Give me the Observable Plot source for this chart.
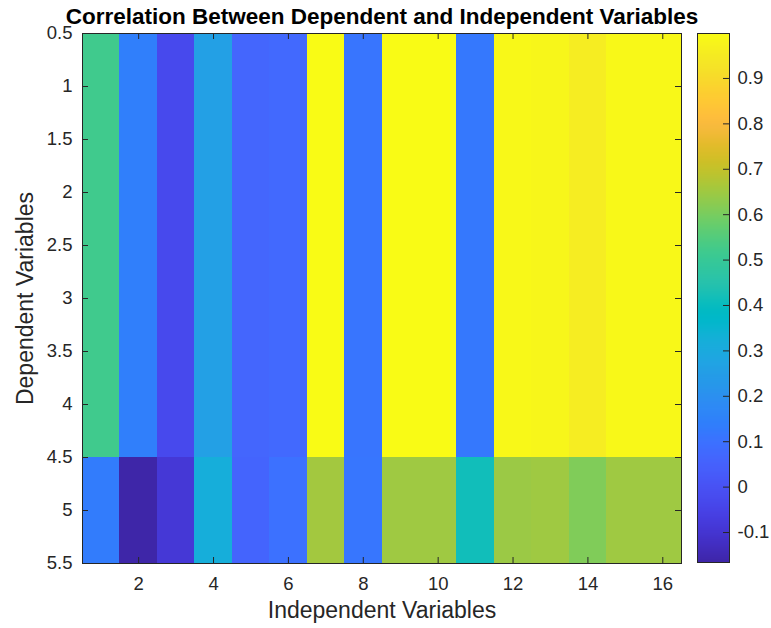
<!DOCTYPE html>
<html><head><meta charset="utf-8">
<script src="https://cdn.jsdelivr.net/npm/d3@7"></script>
<script src="https://cdn.jsdelivr.net/npm/@observablehq/plot@0.6"></script>
<style>
body{margin:0;background:#fff;}
#wrap{position:relative;width:771px;height:628px;overflow:hidden;background:#fff;}
#wrap svg{position:absolute;top:0;}
</style></head><body><div id="wrap"></div>
<script>
// ---- data ----
const independentVars = [1,2,3,4,5,6,7,8,9,10,11,12,13,14,15,16];
const dependentVars = [1,2,3,4,5];
const dep1 = [0.52, 0.14, -0.03, 0.26, 0.065, 0.075, 0.999, 0.11, 0.999, 0.998, 0.12, 0.99, 0.985, 0.955, 0.99, 0.99];
const dep2 = [0.52, 0.14, -0.03, 0.26, 0.065, 0.075, 0.999, 0.11, 0.999, 0.998, 0.12, 0.99, 0.985, 0.955, 0.99, 0.99];
const dep3 = [0.52, 0.14, -0.03, 0.26, 0.065, 0.075, 0.999, 0.11, 0.999, 0.998, 0.12, 0.99, 0.985, 0.955, 0.99, 0.99];
const dep4 = [0.52, 0.14, -0.03, 0.26, 0.065, 0.075, 0.999, 0.11, 0.999, 0.998, 0.12, 0.99, 0.985, 0.955, 0.99, 0.99];
const dep5 = [0.13, -0.166, -0.09, 0.32, 0.06, 0.10, 0.655, 0.115, 0.65, 0.65, 0.415, 0.645, 0.65, 0.61, 0.65, 0.65];
const xTicks = [2,4,6,8,10,12,14,16];
const yTicks = [0.5,1,1.5,2,2.5,3,3.5,4,4.5,5,5.5];
const colorbarTicks = [-0.1,0,0.1,0.2,0.3,0.4,0.5,0.6,0.7,0.8,0.9];
const titleText = "Correlation Between Dependent and Independent Variables";
const xLabel = "Independent Variables";
const yLabel = "Dependent Variables";

// parula colormap (style)
const parula = [
[0.2422,0.1504,0.6603],[0.2504,0.1650,0.7076],[0.2578,0.1818,0.7511],[0.2647,0.1978,0.7952],
[0.2706,0.2147,0.8364],[0.2751,0.2342,0.8710],[0.2783,0.2559,0.8991],[0.2803,0.2782,0.9221],
[0.2813,0.3006,0.9414],[0.2810,0.3228,0.9579],[0.2795,0.3447,0.9717],[0.2760,0.3667,0.9829],
[0.2699,0.3892,0.9906],[0.2602,0.4123,0.9952],[0.2440,0.4358,0.9988],[0.2206,0.4603,0.9973],
[0.1963,0.4847,0.9892],[0.1834,0.5074,0.9798],[0.1786,0.5289,0.9682],[0.1764,0.5499,0.9520],
[0.1687,0.5703,0.9359],[0.1540,0.5902,0.9218],[0.1460,0.6091,0.9079],[0.1380,0.6276,0.8973],
[0.1248,0.6459,0.8883],[0.1113,0.6635,0.8763],[0.0952,0.6798,0.8598],[0.0689,0.6948,0.8394],
[0.0297,0.7082,0.8163],[0.0036,0.7203,0.7917],[0.0067,0.7312,0.7660],[0.0433,0.7411,0.7394],
[0.0964,0.7500,0.7120],[0.1408,0.7584,0.6842],[0.1717,0.7670,0.6554],[0.1938,0.7758,0.6251],
[0.2161,0.7843,0.5923],[0.2470,0.7918,0.5567],[0.2906,0.7973,0.5188],[0.3406,0.8008,0.4789],
[0.3909,0.8029,0.4354],[0.4456,0.8024,0.3909],[0.5044,0.7993,0.3480],[0.5616,0.7942,0.3045],
[0.6174,0.7876,0.2612],[0.6720,0.7793,0.2227],[0.7242,0.7698,0.1910],[0.7738,0.7598,0.1646],
[0.8203,0.7498,0.1535],[0.8634,0.7406,0.1596],[0.9035,0.7330,0.1774],[0.9393,0.7288,0.2100],
[0.9728,0.7298,0.2394],[0.9956,0.7434,0.2371],[0.9970,0.7659,0.2199],[0.9952,0.7893,0.2028],
[0.9892,0.8136,0.1885],[0.9786,0.8386,0.1766],[0.9676,0.8639,0.1643],[0.9610,0.8890,0.1537],
[0.9597,0.9135,0.1423],[0.9628,0.9373,0.1265],[0.9691,0.9606,0.1064],[0.9769,0.9839,0.0805]
].map(([r,g,b]) => d3.rgb(r*255, g*255, b*255).formatHex());
const parulaInterp = d3.piecewise(d3.interpolateRgb, parula);

// ---- build ----
const matrix = [dep1, dep2, dep3, dep4, dep5];
const cells = [];
matrix.forEach((row, i) => row.forEach((v, j) => cells.push({col: independentVars[j], row: dependentVars[i], value: v})));
const allVals = cells.map(d => d.value);
const cMin = d3.min(allVals), cMax = d3.max(allVals);
const colorOpts = {type: "linear", domain: [cMin, cMax], interpolate: parulaInterp};

const FONT = "'Liberation Sans', Arial, Helvetica, sans-serif";
const INK = "#262626";
const TICKFS = 18.5;
const ML = 82, MR = 9, MT = 33, MB = 65, W = 690, H = 628;
const FW = W - ML - MR, FH = H - MT - MB;
const TL = 6;

const main = Plot.plot({
  width: W, height: H, marginLeft: ML, marginRight: MR, marginTop: MT, marginBottom: MB,
  style: {fontFamily: FONT, fontSize: TICKFS + "px", color: INK, background: "transparent", overflow: "visible"},
  x: {domain: [0.5, 16.5], axis: null},
  y: {domain: [0.5, 5.5], reverse: true, axis: null},
  color: colorOpts,
  marks: [
    Plot.rect(cells, {x1: d => d.col - 0.5, x2: d => d.col + 0.5, y1: d => d.row - 0.5, y2: d => d.row + 0.5, fill: "value", shapeRendering: "crispEdges"}),
    Plot.tickX(xTicks, {x: d => d, insetTop: FH - TL, stroke: INK}),
    Plot.tickX(xTicks, {x: d => d, insetBottom: FH - TL, stroke: INK}),
    Plot.tickY(yTicks, {y: d => d, insetRight: FW - TL, stroke: INK}),
    Plot.tickY(yTicks, {y: d => d, insetLeft: FW - TL, stroke: INK}),
    Plot.frame({stroke: INK, strokeWidth: 1}),
    Plot.axisX(xTicks, {anchor: "bottom", tickSize: 0, tickPadding: 13, tickFormat: d => String(d), fontSize: TICKFS, fill: INK, label: null}),
    Plot.axisY(yTicks, {anchor: "left", tickSize: 0, tickPadding: 10, tickFormat: d => String(d), fontSize: TICKFS, fill: INK, label: null}),
    Plot.text([titleText], {text: d => d, frameAnchor: "top", dy: -25, fontSize: 22.5, fontWeight: "bold", fill: "#000"}),
    Plot.text([xLabel], {text: d => d, frameAnchor: "bottom", dy: 54, fontSize: 23, fill: INK}),
    Plot.text([yLabel], {text: d => d, frameAnchor: "left", textAnchor: "middle", dx: -57, rotate: -90, fontSize: 23, fill: INK})
  ]
});
main.style.left = "0px";

const CW = 81, CML = 7, CMR = 42, CMT = 33, CMB = 66;
const cbar = Plot.plot({
  width: CW, height: H, marginLeft: CML, marginRight: CMR, marginTop: CMT, marginBottom: CMB,
  style: {fontFamily: FONT, fontSize: TICKFS + "px", color: INK, background: "transparent", overflow: "visible"},
  x: {domain: [0, 1], axis: null},
  y: {domain: [cMin, cMax], axis: null},
  color: colorOpts,
  marks: [
    Plot.raster({x1: 0, x2: 1, y1: cMin, y2: cMax, width: 1, height: 256, fill: (x, y) => y, imageRendering: "auto"}),
    Plot.tickY(colorbarTicks, {y: d => d, insetLeft: (CW - CML - CMR) - TL, stroke: INK}),
    Plot.frame({stroke: INK, strokeWidth: 1}),
    Plot.axisY(colorbarTicks, {anchor: "right", tickSize: 0, tickPadding: 8, tickFormat: d => String(d), fontSize: TICKFS, fill: INK, label: null})
  ]
});
cbar.style.left = "690px";

const wrap = document.getElementById("wrap");
wrap.appendChild(main);
wrap.appendChild(cbar);
</script>
</body></html>
